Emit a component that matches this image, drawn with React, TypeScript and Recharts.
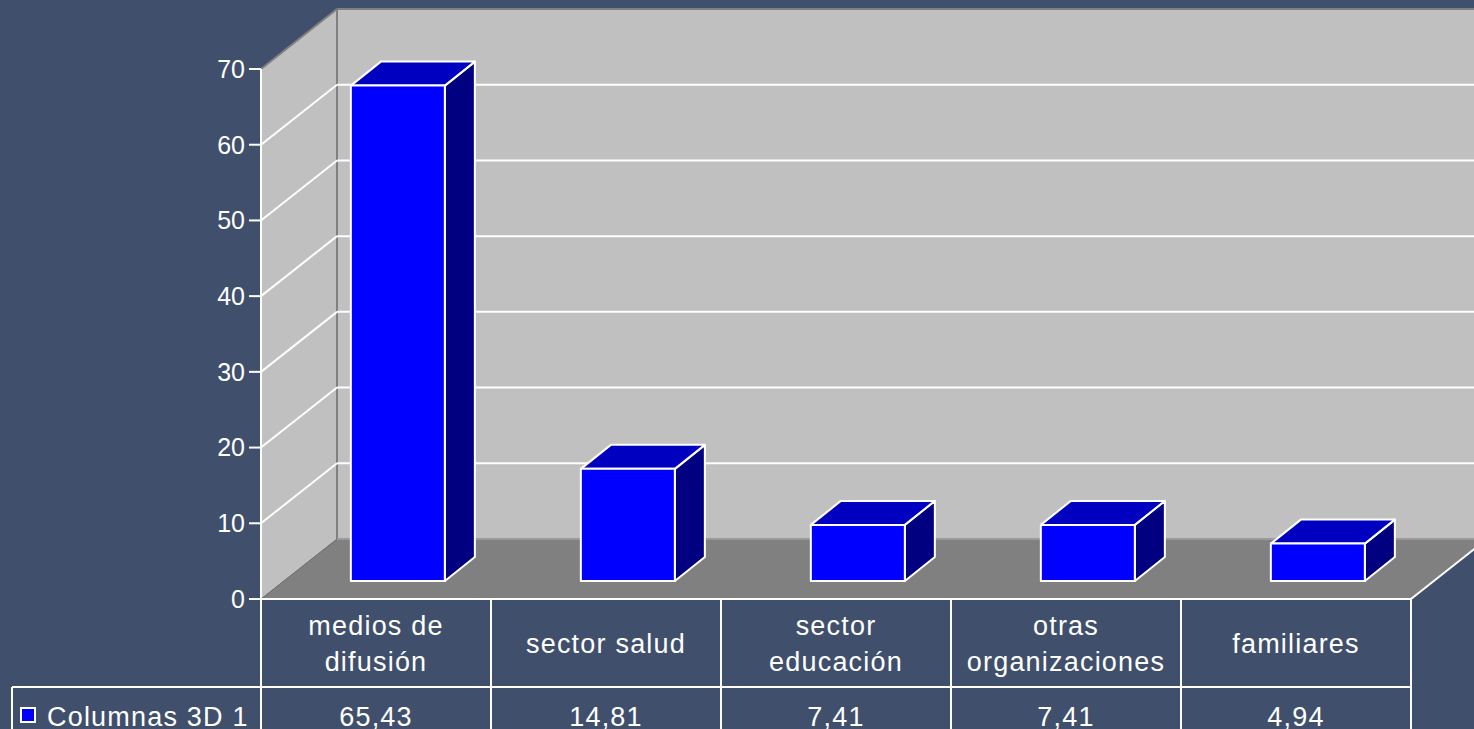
import { BarChart, Bar, XAxis, YAxis, CartesianGrid, ReferenceArea } from "recharts";

const CATEGORIES = [
  "medios de\ndifusión",
  "sector salud",
  "sector\neducación",
  "otras\norganizaciones",
  "familiares",
];
const VALUES = [65.43, 14.81, 7.41, 7.41, 4.94];
const SERIES_NAME = "Columnas 3D 1";
const Y_TICKS = [0, 10, 20, 30, 40, 50, 60, 70];

const data = CATEGORIES.map((name, i) => ({ name, value: VALUES[i] }));

const BG = "#40506c";
const FONT = '"Liberation Sans", Arial, sans-serif';
const W = 1474;
const H = 770;
const ROW1 = 88; // height of the category row in the data table

// depth of the walls / floor
const DX = 76;
const DY = 60;
// bars stand a bit behind the front plane, and have their own depth
const BAR_DX = 22;
const BAR_DY = 18;
const BOX_DX = 30;
const BOX_DY = 24;

const cellText = { fill: "#fff", fontSize: 27, fontFamily: FONT, letterSpacing: 1.2 };

function Walls(props: any) {
  const { x, y, width, height } = props;
  const b = y + height;
  const r = x + width;
  return (
    <g>
      <polygon
        points={`${x},${y} ${x + DX},${y - DY} ${x + DX},${b - DY} ${x},${b}`}
        fill="#c0c0c0"
      />
      <rect x={x + DX} y={y - DY} width={width} height={height} fill="#c0c0c0" />
      <polygon
        points={`${x},${b} ${r},${b} ${r + DX},${b - DY} ${x + DX},${b - DY}`}
        fill="#808080"
      />
      <g stroke="#808080" strokeWidth={2}>
        <line x1={x} y1={y} x2={x + DX} y2={y - DY} />
        <line x1={x + DX} y1={y - DY} x2={r + DX} y2={y - DY} />
        <line x1={x + DX} y1={y - DY} x2={x + DX} y2={b - DY} />
      </g>
      <line x1={x + DX} y1={b - DY} x2={r + DX} y2={b - DY} stroke="#9a9a9a" strokeWidth={2} />
      <line x1={x} y1={b} x2={x + DX} y2={b - DY} stroke="#707070" strokeWidth={1} />
      <line x1={r} y1={b} x2={r + DX} y2={b - DY} stroke="#fff" strokeWidth={2} />
    </g>
  );
}

function GridLine(props: any) {
  const { x1, x2, y1, index } = props;
  if (index === 0 || index === Y_TICKS.length - 1) return <g />;
  return (
    <g stroke="#fff" strokeWidth={2}>
      <line x1={x1} y1={y1} x2={x1 + DX} y2={y1 - DY} />
      <line x1={x1 + DX} y1={y1 - DY} x2={x2 + DX} y2={y1 - DY} />
    </g>
  );
}

function Box3D(props: any) {
  const { x, y, width, height } = props;
  const fx = x + BAR_DX;
  const fy = y - BAR_DY;
  const r = fx + width;
  const b = fy + height;
  return (
    <g stroke="#fff" strokeWidth={2} strokeLinejoin="round">
      <polygon
        points={`${r},${fy} ${r + BOX_DX},${fy - BOX_DY} ${r + BOX_DX},${b - BOX_DY} ${r},${b}`}
        fill="#000080"
      />
      <polygon
        points={`${fx},${fy} ${fx + BOX_DX},${fy - BOX_DY} ${r + BOX_DX},${fy - BOX_DY} ${r},${fy}`}
        fill="#0000c0"
      />
      <rect x={fx} y={fy} width={width} height={height} fill="#0000ff" />
    </g>
  );
}

const fmt = (v: number) => v.toFixed(2).replace(".", ",");

function TableCell(props: any) {
  const { x, y, payload, index } = props;
  const half = payload?.offset || 115;
  const lines = String(payload.value).split("\n");
  const cy = y + ROW1 / 2;
  const left = x - half;
  const right = x + half;
  return (
    <g>
      <g stroke="#fff" strokeWidth={2}>
        <line x1={right} y1={y} x2={right} y2={H} />
        {index === 0 && <line x1={left} y1={y} x2={left} y2={H} />}
        <line x1={index === 0 ? 12 : left} y1={y + ROW1} x2={right} y2={y + ROW1} />
        {index === 0 && <line x1={12} y1={y + ROW1} x2={12} y2={H} />}
      </g>
      {lines.map((ln, i) => (
        <text
          key={i}
          x={x}
          y={cy + (i - (lines.length - 1) / 2) * 36}
          dy="0.36em"
          textAnchor="middle"
          {...cellText}
        >
          {ln}
        </text>
      ))}
      <text x={x} y={y + ROW1 + 29} dy="0.36em" textAnchor="middle" {...cellText}>
        {fmt(VALUES[index])}
      </text>
      {index === 0 && (
        <g>
          <rect x={21} y={y + ROW1 + 21} width={14} height={14} fill="#0000ff" stroke="#fff" strokeWidth={2} />
          <text x={47} y={y + ROW1 + 29} dy="0.36em" {...cellText}>
            {SERIES_NAME}
          </text>
        </g>
      )}
    </g>
  );
}

export default function App() {
  return (
    <div
      style={{
        position: "absolute",
        left: 0,
        top: 0,
        width: W,
        height: 729,
        overflow: "hidden",
        background: BG,
      }}
    >
      <BarChart
        width={W}
        height={H}
        data={data}
        margin={{ top: 69, right: 63, left: 0, bottom: 0 }}
        barCategoryGap="29.5%"
      >
        <ReferenceArea y1={0} y2={70} shape={<Walls />} zIndex={-300} />
        <CartesianGrid vertical={false} horizontal={(p: any) => <GridLine {...p} />} zIndex={-200} />
        <YAxis
          domain={[0, 70]}
          ticks={Y_TICKS}
          interval={0}
          width={261}
          axisLine={{ stroke: "#fff", strokeWidth: 2 }}
          tickLine={{ stroke: "#fff", strokeWidth: 2 }}
          tickSize={12}
          tickMargin={4}
          tick={{ fill: "#fff", fontSize: 25, fontFamily: FONT }}
        />
        <XAxis
          dataKey="name"
          height={H - 599}
          interval={0}
          axisLine={{ stroke: "#fff", strokeWidth: 2 }}
          tickLine={false}
          tickSize={0}
          tickMargin={0}
          tick={<TableCell />}
        />
        <Bar dataKey="value" isAnimationActive={false} shape={<Box3D />} />
      </BarChart>
    </div>
  );
}
